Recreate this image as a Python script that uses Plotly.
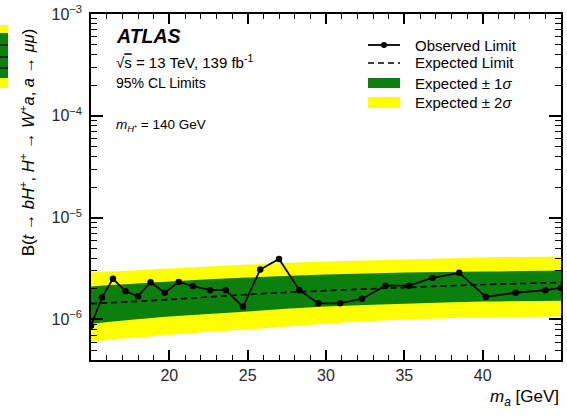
import numpy as np
import plotly.graph_objects as go

# Observed limit: scanned a-boson masses [GeV] and 95% CL upper limits
mass_obs = [15.0, 15.7, 16.4, 17.2, 18.0, 18.8, 19.7, 20.6, 21.5, 22.6, 23.6, 24.7, 25.8,
            27.0, 28.3, 29.5, 30.9, 32.3, 33.8, 35.3, 36.8, 38.5, 40.2, 42.1, 44.0, 45.0]
obs_limit = [8.7e-7, 1.64e-6, 2.51e-6, 1.89e-6, 1.69e-6, 2.32e-6, 1.83e-6, 2.34e-6, 2.12e-6,
             1.94e-6, 1.94e-6, 1.33e-6, 3.09e-6, 3.93e-6, 1.94e-6, 1.44e-6, 1.44e-6, 1.60e-6,
             2.15e-6, 2.15e-6, 2.56e-6, 2.87e-6, 1.67e-6, 1.83e-6, 1.94e-6, 2.04e-6]

# Expected limit and its 1 and 2 sigma bands
mass_exp = [15, 20, 25, 30, 35, 40, 45]
exp_limit = [1.43e-6, 1.57e-6, 1.76e-6, 1.92e-6, 2.06e-6, 2.20e-6, 2.31e-6]
exp_m1s = [9.1e-7, 1.07e-6, 1.20e-6, 1.34e-6, 1.43e-6, 1.50e-6, 1.53e-6]
exp_p1s = [2.11e-6, 2.36e-6, 2.58e-6, 2.76e-6, 2.89e-6, 2.96e-6, 3.02e-6]
exp_m2s = [6.1e-7, 7.1e-7, 8.0e-7, 9.1e-7, 1.00e-6, 1.05e-6, 1.07e-6]
exp_p2s = [2.89e-6, 3.16e-6, 3.46e-6, 3.71e-6, 3.88e-6, 4.06e-6, 4.15e-6]

x_ticks = [20, 25, 30, 35, 40, 45]
y_ticks = [1e-6, 1e-5, 1e-4, 1e-3]
y_ticktext = ["10<sup>\u22126</sup>", "10<sup>\u22125</sup>", "10<sup>\u22124</sup>", "10<sup>\u22123</sup>"]

YELLOW = "#ffff00"
GREEN = "#0c800c"
INK = "black"
FONT = "Liberation Sans"

W, H = 567, 417
ML, MR, MT, MB = 91, 6, 14, 57
PW, PH = W - ML - MR, H - MT - MB


def px(x):
    return (x - ML) / PW


def py(y):
    return (H - MB - y) / PH


fig = go.Figure()

# 2 sigma band
fig.add_trace(go.Scatter(x=mass_exp, y=exp_m2s, mode="lines", line=dict(width=0, shape="spline"),
                         showlegend=False, hoverinfo="skip"))
fig.add_trace(go.Scatter(x=mass_exp, y=exp_p2s, mode="lines", line=dict(width=0, shape="spline"),
                         fill="tonexty", fillcolor=YELLOW, showlegend=False, hoverinfo="skip"))
# 1 sigma band
fig.add_trace(go.Scatter(x=mass_exp, y=exp_m1s, mode="lines", line=dict(width=0, shape="spline"),
                         showlegend=False, hoverinfo="skip"))
fig.add_trace(go.Scatter(x=mass_exp, y=exp_p1s, mode="lines", line=dict(width=0, shape="spline"),
                         fill="tonexty", fillcolor=GREEN, showlegend=False, hoverinfo="skip"))
# expected limit
fig.add_trace(go.Scatter(x=mass_exp, y=exp_limit, mode="lines",
                         line=dict(color=INK, width=1.7, dash="6px,4px", shape="spline"),
                         showlegend=False))
# observed limit
fig.add_trace(go.Scatter(x=mass_obs, y=obs_limit, mode="lines+markers",
                         line=dict(color=INK, width=1.8),
                         marker=dict(color=INK, size=6.5, symbol="circle"),
                         showlegend=False))

fig.update_xaxes(range=[15, 45], tickmode="array", tickvals=x_ticks,
                 ticks="inside", ticklen=10, tickwidth=1.5, tickcolor=INK,
                 mirror="ticks", showline=True, linecolor=INK, linewidth=1.5,
                 showgrid=False, zeroline=False,
                 tickfont=dict(family=FONT, size=16, color="#2a2a2a"),
                 minor=dict(tickmode="linear", tick0=15, dtick=1, ticks="inside", ticklen=5,
                            tickwidth=1.1, tickcolor=INK, showgrid=False))
fig.update_yaxes(type="log", range=[np.log10(4e-7), -3], tickmode="array",
                 tickvals=y_ticks, ticktext=y_ticktext, ticklabelstandoff=4,
                 ticks="inside", ticklen=12, tickwidth=1.5, tickcolor=INK,
                 mirror="ticks", showline=True, linecolor=INK, linewidth=1.5,
                 showgrid=False, zeroline=False,
                 tickfont=dict(family=FONT, size=16, color="#2a2a2a"),
                 minor=dict(tickmode="linear", dtick="D1", ticks="inside", ticklen=6,
                            tickwidth=1.1, tickcolor=INK, showgrid=False))

ann = []
# labels inside the frame
ann.append(dict(x=px(114), y=py(36), text="<b><i>ATLAS</i></b>", font=dict(size=19.5)))
ann.append(dict(x=px(114), y=py(61),
                text="\u221a<span style='text-decoration:overline'>s</span> = 13 TeV, 139 fb<sup>-1</sup>",
                font=dict(size=15)))
ann.append(dict(x=px(114), y=py(83), text="95% CL Limits", font=dict(size=14)))
ann.append(dict(x=px(114), y=py(126), text="<i>m</i><sub><i>H</i>\u207a</sub> = 140 GeV",
                font=dict(size=13.5)))

# legend
leg_x0, leg_x1, leg_tx = 368, 400, 413
leg_rows = [45, 63, 83, 102]
leg_text = ["Observed Limit", "Expected Limit", "Expected \u00b1 1<i>\u03c3</i>", "Expected \u00b1 2<i>\u03c3</i>"]
for yy, t in zip(leg_rows, leg_text):
    ann.append(dict(x=px(leg_tx), y=py(yy), text=t, font=dict(size=15)))

for a in ann:
    a.update(xref="paper", yref="paper", xanchor="left", yanchor="middle", showarrow=False)
    a["font"].update(family=FONT, color=INK)

# axis titles
ann.append(dict(xref="paper", yref="paper", x=1.0, y=py(398), xanchor="right", yanchor="middle",
                text="<i>m<sub>a</sub></i> [GeV]", showarrow=False,
                font=dict(family=FONT, size=17, color=INK)))
ann.append(dict(xref="paper", yref="paper", x=px(27), y=py(143), xanchor="center", yanchor="middle",
                textangle=-90, showarrow=False,
                text="B(<i>t</i> \u2192 <i>bH</i><sup>+</sup>, <i>H</i><sup>+</sup> \u2192 "
                     "<i>W</i><sup>+</sup><i>a</i>, <i>a</i> \u2192 <i>\u03bc\u03bc</i>)",
                font=dict(family=FONT, size=16.5, color=INK)))

shapes = [
    dict(type="line", xref="paper", yref="paper", x0=px(leg_x0), x1=px(leg_x1), y0=py(45), y1=py(45),
         line=dict(color=INK, width=1.8)),
    dict(type="circle", xref="paper", yref="paper", x0=px(381), x1=px(387), y0=py(48), y1=py(42),
         fillcolor=INK, line=dict(color=INK, width=0)),
    dict(type="line", xref="paper", yref="paper", x0=px(leg_x0), x1=px(leg_x1), y0=py(63), y1=py(63),
         line=dict(color=INK, width=1.7, dash="6px,4px")),
    dict(type="rect", xref="paper", yref="paper", x0=px(leg_x0), x1=px(leg_x1), y0=py(88), y1=py(78),
         fillcolor=GREEN, line=dict(width=0)),
    dict(type="rect", xref="paper", yref="paper", x0=px(leg_x0), x1=px(leg_x1), y0=py(108), y1=py(97),
         fillcolor=YELLOW, line=dict(width=0)),
    # edge of the neighbouring panel's legend box
    dict(type="rect", xref="paper", yref="paper", x0=px(0), x1=px(8), y0=py(88), y1=py(25),
         fillcolor=YELLOW, line=dict(width=0)),
    dict(type="rect", xref="paper", yref="paper", x0=px(0), x1=px(8), y0=py(78), y1=py(33),
         fillcolor=GREEN, line=dict(width=0)),
]
for yy in [45, 57, 68]:
    shapes.append(dict(type="line", xref="paper", yref="paper", x0=px(0), x1=px(8), y0=py(yy), y1=py(yy),
                       line=dict(color=INK, width=1.2)))

fig.update_layout(width=W, height=H, margin=dict(l=ML, r=MR, t=MT, b=MB, autoexpand=False),
                  paper_bgcolor="white", plot_bgcolor="white", showlegend=False,
                  annotations=ann, shapes=shapes, font=dict(family=FONT))

fig.write_html("out.html")
